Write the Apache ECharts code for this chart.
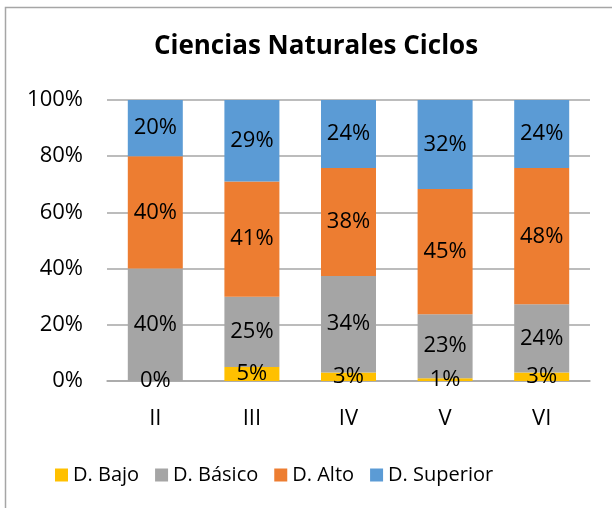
<!DOCTYPE html>
<html>
<head>
<meta charset="utf-8">
<script src="https://cdn.jsdelivr.net/npm/echarts@6/dist/echarts.min.js"></script>
<style>
  html, body { margin: 0; padding: 0; background: #fff; }
  #chart { width: 612px; height: 508px; }
</style>
</head>
<body>
<div id="chart"></div>
<script>
// datos del gráfico
const ciclos = ['II', 'III', 'IV', 'V', 'VI']
const bajo = [0, 5, 3, 1, 3]
const basico = [40, 25, 34, 23, 24]
const alto = [40, 41, 38, 45, 48]
const superior = [20, 29, 24, 32, 24]
const yTicks = [0, 20, 40, 60, 80, 100]

const nombres = ['D. Bajo', 'D. Básico', 'D. Alto', 'D. Superior']
const colores = ['#FFC000', '#A5A5A5', '#ED7D31', '#5B9BD5']
const valores = [bajo, basico, alto, superior]

// total por ciclo, para apilar al 100%
const totales = ciclos.map((_, i) => valores.reduce((s, v) => s + v[i], 0))

const fuente = '"Open Sans", sans-serif'

const chart = echarts.init(document.getElementById('chart'))
const option = {
  animation: false,
  title: {
    text: 'Ciencias Naturales Ciclos',
    left: 311,
    textAlign: 'center',
    top: 29,
    textStyle: { fontFamily: fuente, fontSize: 26, fontWeight: 'bold', color: '#000' }
  },
  graphic: [{
    type: 'rect',
    shape: { x: 5.5, y: 7.5, width: 700, height: 700 },
    style: { fill: 'none', stroke: '#A6A6A6', lineWidth: 1.5 }
  }],
  legend: {
    left: 50,
    top: 460,
    itemWidth: 13,
    itemHeight: 13,
    itemGap: 16,
    icon: 'rect',
    textStyle: { fontFamily: fuente, fontSize: 20, color: '#000' },
    data: nombres
  },
  grid: { left: 107, right: 22, top: 100, bottom: 127 },
  xAxis: {
    type: 'category',
    data: ciclos,
    axisTick: { show: false },
    axisLine: { lineStyle: { color: '#A6A6A6', width: 1.5 } },
    axisLabel: { fontFamily: fuente, fontSize: 22, color: '#000', margin: 27 }
  },
  yAxis: {
    type: 'value',
    min: yTicks[0],
    max: yTicks[yTicks.length - 1],
    interval: 20,
    axisLine: { show: false },
    axisTick: { show: false },
    splitLine: { lineStyle: { color: '#A6A6A6', width: 1.5 } },
    axisLabel: { fontFamily: fuente, fontSize: 22, color: '#000', margin: 24, formatter: '{value}%' }
  },
  series: valores.map((v, k) => ({
    name: nombres[k],
    type: 'bar',
    stack: 'total',
    barWidth: 55,
    itemStyle: { color: colores[k] },
    label: {
      show: true,
      position: 'inside',
      fontFamily: fuente,
      fontSize: 22,
      color: '#000',
      formatter: p => v[p.dataIndex] + '%'
    },
    data: v.map((x, i) => x / totales[i] * 100)
  }))
}
chart.setOption(option)
</script>
</body>
</html>
